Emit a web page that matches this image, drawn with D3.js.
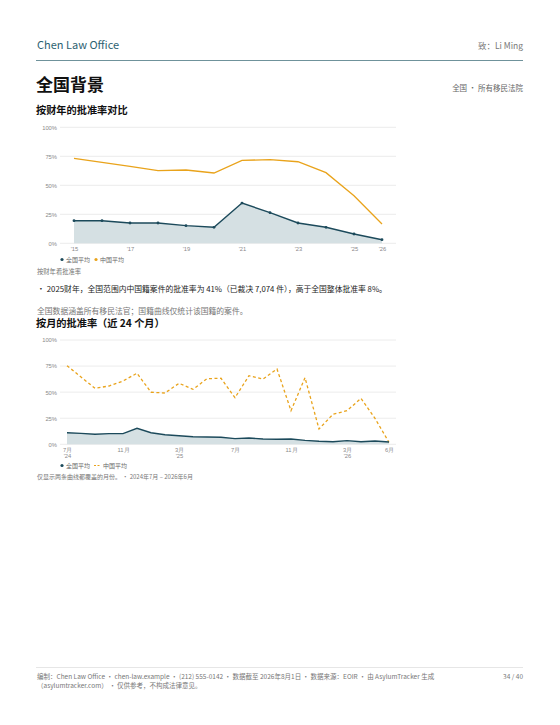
<!DOCTYPE html>
<html>
<head>
<meta charset="utf-8">
<script src="https://cdn.jsdelivr.net/npm/d3@7"></script>
<style>
  body { margin: 0; background: #fff; }
  svg { display: block; font-family: "Noto Sans CJK SC", "Noto Sans", sans-serif; }
</style>
</head>
<body>
<svg id="page" width="560" height="725"></svg>
<script>
// 按财年
const fiscalYears = ["FY15","FY16","FY17","FY18","FY19","FY20","FY21","FY22","FY23","FY24","FY25","FY26"];
const fyNational = [19.5, 19.5, 17.5, 17.5, 15.2, 13.8, 34.7, 26.4, 17.5, 13.8, 8, 3.1];
const fyChina = [73.3, 69.8, 66.4, 62.6, 63.2, 60.6, 71.5, 72.1, 70.3, 60.9, 41, 16.6];
const fyTickShown = ["FY15","FY17","FY19","FY21","FY23","FY25","FY26"];

// 按月 (2024年7月 – 2026年6月)
const months = ["2024-07","2024-08","2024-09","2024-10","2024-11","2024-12","2025-01","2025-02","2025-03","2025-04","2025-05","2025-06",
                "2025-07","2025-08","2025-09","2025-10","2025-11","2025-12","2026-01","2026-02","2026-03","2026-04","2026-05","2026-06"];
const moNational = [11.1, 10.5, 9.6, 10.2, 10.2, 15.3, 11.1, 9.1, 8.2, 7.3, 7.0, 6.7,
                    5.4, 6.0, 5.1, 4.8, 5.1, 3.8, 2.9, 2.5, 3.5, 2.5, 3.2, 2.2];
const moChina = [75.4, 64.5, 53.7, 55.9, 60.7, 68.1, 49.9, 49.2, 58.5, 52.7, 62.9, 63.3,
                 44.7, 65.8, 62.6, 72.2, 32.2, 63.9, 14.7, 28.8, 32.2, 44.1, 24.9, 1.9];
const moTickShown = ["2024-07","2024-11","2025-03","2025-07","2025-11","2026-03","2026-06"];

const yTicks = [0, 25, 50, 75, 100];

const darkC = "#1c4a5b", orangeC = "#e9a31b", areaC = "#d3dee2", gridC = "#ececec", mutedC = "#8a8a8a";

const svg = d3.select("#page");

// 页眉
svg.append("text").attr("x", 37).attr("y", 49).attr("font-size", 11).attr("fill", "#2d6271").text("Chen Law Office");
svg.append("text").attr("x", 523).attr("y", 49).attr("text-anchor", "end").attr("font-size", 8.5).attr("fill", "#777").text("致：Li Ming");
svg.append("line").attr("x1", 36).attr("x2", 523).attr("y1", 60.5).attr("y2", 60.5).attr("stroke", "#6f929b").attr("stroke-width", 1.2);

svg.append("text").attr("x", 36).attr("y", 91).attr("font-size", 17).attr("font-weight", 700).attr("fill", "#111").text("全国背景");
svg.append("text").attr("x", 523).attr("y", 91).attr("text-anchor", "end").attr("font-size", 7.5).attr("fill", "#666").text("全国 · 所有移民法院");
svg.append("text").attr("x", 36).attr("y", 114).attr("font-size", 10.2).attr("font-weight", 700).attr("fill", "#111").text("按财年的批准率对比");

function drawChart(opts) {
    const g = svg.append("g");
    const x = d3.scalePoint().domain(opts.cats).range([60, 396]).padding(0.5);
    const y = d3.scaleLinear().domain([0, 100]).range([opts.y0, opts.y1]);

    // 网格
    g.selectAll("line.grid").data(yTicks).join("line")
        .attr("x1", 60).attr("x2", 396)
        .attr("y1", d => y(d)).attr("y2", d => y(d))
        .attr("stroke", gridC).attr("stroke-width", 1);

    const yAxis = g.append("g").attr("transform", "translate(57,0)")
        .call(d3.axisLeft(y).tickValues(yTicks).tickFormat(d => d + "%").tickSize(0).tickPadding(0));
    yAxis.select(".domain").remove();
    yAxis.selectAll("text").attr("font-size", 5.8).attr("fill", mutedC).attr("font-family", null);

    const xAxis = g.append("g").attr("transform", `translate(0,${opts.y0 + 3})`)
        .call(d3.axisBottom(x).tickValues(opts.tickShown).tickSize(0).tickPadding(0).tickFormat(""));
    xAxis.select(".domain").remove();
    xAxis.selectAll(".tick").each(function (d) {
        const lines = opts.tickLabel(d);
        const t = d3.select(this).append("text").attr("fill", mutedC).attr("font-size", 5.8).attr("text-anchor", "middle");
        lines.forEach((s, i) => t.append("tspan").attr("x", 0).attr("y", 4.5 + i * 6.5).text(s));
    });

    const nat = opts.cats.map((c, i) => ({ c, v: opts.nat[i] }));
    const chn = opts.cats.map((c, i) => ({ c, v: opts.chn[i] }));

    g.append("path").datum(nat)
        .attr("fill", areaC).attr("opacity", 0.95)
        .attr("d", d3.area().x(d => x(d.c)).y0(y(0)).y1(d => y(d.v)));

    g.append("path").datum(chn)
        .attr("fill", "none").attr("stroke", orangeC).attr("stroke-width", 1.3)
        .attr("stroke-dasharray", opts.dashed ? "3,2.5" : null)
        .attr("d", d3.line().x(d => x(d.c)).y(d => y(d.v)));

    g.append("path").datum(nat)
        .attr("fill", "none").attr("stroke", darkC).attr("stroke-width", 1.4)
        .attr("d", d3.line().x(d => x(d.c)).y(d => y(d.v)));

    if (opts.markers) {
        g.selectAll("circle.pt").data(nat).join("circle")
            .attr("cx", d => x(d.c)).attr("cy", d => y(d.v)).attr("r", 1.4).attr("fill", darkC);
    }

    // 图例
    const lg = g.append("g").attr("transform", `translate(62,${opts.legendY})`);
    lg.append("circle").attr("cx", 0).attr("cy", 0).attr("r", 1.6).attr("fill", darkC);
    lg.append("text").attr("x", 4).attr("y", 2.1).attr("font-size", 6).attr("fill", "#666").text("全国平均");
    if (opts.dashed) {
        lg.append("line").attr("x1", 32).attr("x2", 39).attr("y1", 0).attr("y2", 0)
            .attr("stroke", orangeC).attr("stroke-width", 1.2).attr("stroke-dasharray", "2,1.5");
        lg.append("text").attr("x", 41).attr("y", 2.1).attr("font-size", 6).attr("fill", "#666").text("中国平均");
    } else {
        lg.append("circle").attr("cx", 34).attr("cy", 0).attr("r", 1.6).attr("fill", orangeC);
        lg.append("text").attr("x", 38).attr("y", 2.1).attr("font-size", 6).attr("fill", "#666").text("中国平均");
    }
}

drawChart({
    cats: fiscalYears, nat: fyNational, chn: fyChina, tickShown: fyTickShown,
    y0: 243.3, y1: 127.3, legendY: 259.5, markers: true, dashed: false,
    tickLabel: d => ["'" + d.slice(2)]
});

svg.append("text").attr("x", 37).attr("y", 273.5).attr("font-size", 6.3).attr("fill", "#777").text("按财年看批准率");

const bullet = svg.append("text").attr("x", 37).attr("y", 292).attr("font-size", 7.8).attr("fill", "#222");
bullet.append("tspan").text("•");
bullet.append("tspan").attr("dx", 2)
    .text("2025财年，全国范围内中国籍案件的批准率为 41%（已裁决 7,074 件），高于全国整体批准率 8%。");
svg.append("text").attr("x", 37).attr("y", 314).attr("font-size", 7.8).attr("fill", "#777")
    .text("全国数据涵盖所有移民法官；国籍曲线仅统计该国籍的案件。");
svg.append("text").attr("x", 36).attr("y", 327).attr("font-size", 10.2).attr("font-weight", 700).attr("fill", "#111")
    .text("按月的批准率（近 24 个月）");

drawChart({
    cats: months, nat: moNational, chn: moChina, tickShown: moTickShown,
    y0: 444.3, y1: 340, legendY: 465.5, markers: false, dashed: true,
    tickLabel: d => {
        const m = +d.slice(5) + "月";
        const first = d === months[0] || d.endsWith("-03");
        return first ? [m, "'" + d.slice(2, 4)] : [m];
    }
});

svg.append("text").attr("x", 37).attr("y", 479).attr("font-size", 6).attr("fill", "#777")
    .text("仅显示两条曲线都覆盖的月份。 · 2024年7月 – 2026年6月");

// 页脚
svg.append("line").attr("x1", 36).attr("x2", 523).attr("y1", 667.5).attr("y2", 667.5).attr("stroke", "#e6e6e6").attr("stroke-width", 1);
svg.append("text").attr("x", 37).attr("y", 678.5).attr("font-size", 6.5).attr("fill", "#777")
    .text("编制：Chen Law Office · chen-law.example · (212) 555-0142 · 数据截至 2026年8月1日 · 数据来源：EOIR · 由 AsylumTracker 生成");
svg.append("text").attr("x", 37).attr("y", 688).attr("font-size", 6.5).attr("fill", "#777")
    .text("（asylumtracker.com） · 仅供参考，不构成法律意见。");
svg.append("text").attr("x", 523).attr("y", 678.5).attr("text-anchor", "end").attr("font-size", 6.5).attr("fill", "#777").text("34 / 40");
</script>
</body>
</html>
